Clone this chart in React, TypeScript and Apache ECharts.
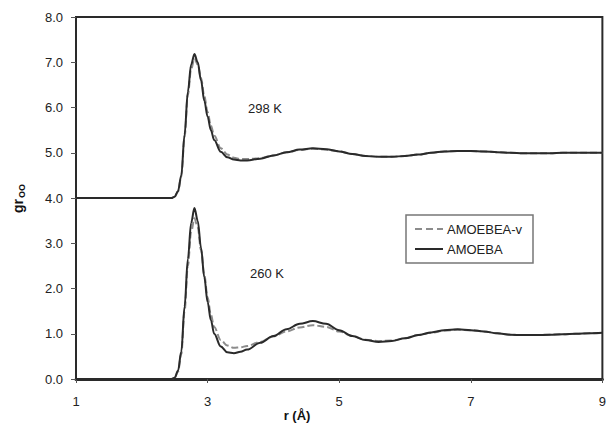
import React, { useEffect, useRef } from "react";
import * as echarts from "echarts";

// r values (Å)
const R = [1.0, 2.0, 2.4, 2.45, 2.5, 2.55, 2.6, 2.65, 2.7, 2.75, 2.8, 2.85, 2.9, 2.95, 3.0, 3.05, 3.1, 3.2, 3.3, 3.4, 3.5, 3.6, 3.8, 4.0, 4.2, 4.4, 4.6, 4.8, 5.0, 5.2, 5.4, 5.6, 5.8, 6.0, 6.2, 6.4, 6.6, 6.8, 7.0, 7.2, 7.4, 7.6, 7.8, 8.0, 8.2, 8.4, 8.6, 8.8, 9.0];

// 298 K curves are shifted up by this offset in the plot
const OFFSET_298 = 4;

const AMOEBA_298 = [0, 0, 0, 0, 0.03, 0.15, 0.5, 1.4, 2.35, 2.95, 3.18, 3.0, 2.6, 2.15, 1.8, 1.5, 1.28, 1.02, 0.9, 0.85, 0.83, 0.83, 0.87, 0.94, 1.01, 1.07, 1.1, 1.08, 1.03, 0.97, 0.93, 0.91, 0.91, 0.93, 0.96, 1.0, 1.03, 1.04, 1.04, 1.03, 1.01, 1.0, 0.99, 0.99, 0.99, 1.0, 1.0, 1.0, 1.0];
const AMOEBAV_298 = [0, 0, 0, 0, 0.03, 0.14, 0.47, 1.35, 2.28, 2.85, 3.08, 2.95, 2.65, 2.25, 1.9, 1.6, 1.38, 1.1, 0.96, 0.89, 0.86, 0.86, 0.88, 0.94, 1.01, 1.06, 1.09, 1.07, 1.03, 0.97, 0.93, 0.91, 0.91, 0.93, 0.96, 1.0, 1.03, 1.04, 1.04, 1.03, 1.01, 1.0, 0.99, 0.99, 0.99, 1.0, 1.0, 1.0, 1.0];

const AMOEBA_260 = [0, 0, 0, 0, 0.03, 0.18, 0.6, 1.6, 2.65, 3.45, 3.78, 3.5, 2.9, 2.25, 1.7, 1.3, 1.0, 0.72, 0.59, 0.57, 0.6, 0.65, 0.8, 0.95, 1.1, 1.22, 1.28, 1.22, 1.08, 0.95, 0.86, 0.82, 0.84, 0.9, 0.97, 1.03, 1.08, 1.1, 1.08, 1.05, 1.01, 0.98, 0.97, 0.97, 0.98, 0.99, 1.0, 1.01, 1.02];
const AMOEBAV_260 = [0, 0, 0, 0, 0.03, 0.16, 0.55, 1.5, 2.5, 3.25, 3.55, 3.35, 2.85, 2.3, 1.8, 1.42, 1.15, 0.86, 0.74, 0.69, 0.7, 0.73, 0.82, 0.94, 1.05, 1.14, 1.19, 1.15, 1.05, 0.95, 0.87, 0.84, 0.85, 0.9, 0.97, 1.02, 1.07, 1.09, 1.08, 1.05, 1.01, 0.98, 0.97, 0.97, 0.98, 0.99, 1.0, 1.01, 1.02];

const X_TICKS = [1, 3, 5, 7, 9];
const Y_MIN = 0, Y_MAX = 8;

const LEGEND_NAMES = ["AMOEBEA-v", "AMOEBA"];
const TEMP_LABELS = ["298 K", "260 K"];

const FONT = "'Liberation Sans', Arial, Helvetica, sans-serif";
const DARK = "#2a2a2a";
const GRAY = "#8c8c8c";

function pairs(vals: number[], offset = 0) {
  return R.map((r, i) => [r, vals[i] + offset]);
}

export default function App() {
  const ref = useRef<HTMLDivElement>(null);
  useEffect(() => {
    if (!ref.current) return;
    const chart = echarts.init(ref.current, undefined, { renderer: "svg" });
    const dashed = { color: GRAY, width: 2, type: [7, 3] as any };
    const solid = { color: DARK, width: 2, type: "solid" as any };
    const common = { type: "line", showSymbol: false, smooth: 0.35, smoothMonotone: "x", silent: true };
    chart.setOption({
      animation: false,
      grid: { left: 76, right: 6, top: 17, bottom: 47, show: true, borderColor: DARK, borderWidth: 2, backgroundColor: "transparent" },
      xAxis: {
        type: "value", min: X_TICKS[0], max: X_TICKS[X_TICKS.length - 1], interval: 2,
        axisLine: { lineStyle: { color: DARK, width: 3 } },
        axisTick: { show: true, length: 4, inside: false, lineStyle: { color: "#555", width: 1 } },
        axisLabel: { color: "#222", fontSize: 13, fontFamily: FONT, margin: 16 },
        splitLine: { show: false },
      },
      yAxis: {
        type: "value", min: Y_MIN, max: Y_MAX, interval: 1,
        axisLine: { show: true, lineStyle: { color: DARK, width: 2 } },
        axisTick: { show: true, length: 5, inside: false, lineStyle: { color: "#555", width: 1 } },
        axisLabel: { color: "#222", fontSize: 13, fontFamily: FONT, margin: 13, formatter: (v: number) => v.toFixed(1) },
        splitLine: { show: false },
      },
      series: [
        { ...common, name: LEGEND_NAMES[0] + " 298", data: pairs(AMOEBAV_298, OFFSET_298), lineStyle: dashed, z: 2 },
        { ...common, name: LEGEND_NAMES[1] + " 298", data: pairs(AMOEBA_298, OFFSET_298), lineStyle: solid, z: 3 },
        { ...common, name: LEGEND_NAMES[0] + " 260", data: pairs(AMOEBAV_260), lineStyle: dashed, z: 2 },
        { ...common, name: LEGEND_NAMES[1] + " 260", data: pairs(AMOEBA_260), lineStyle: solid, z: 3 },
      ],
      graphic: [
        { type: "text", left: 248, top: 102, style: { text: TEMP_LABELS[0], font: `13px ${FONT}`, fill: "#222" } },
        { type: "text", left: 250, top: 267, style: { text: TEMP_LABELS[1], font: `13px ${FONT}`, fill: "#222" } },
        { type: "text", x: 297, y: 415, style: { text: "r (Å)", font: `bold 13px ${FONT}`, fill: "#111", align: "center", verticalAlign: "middle" } },
        {
          type: "group", x: 18, y: 213, rotation: Math.PI / 2,
          children: [
            { type: "text", x: 0, y: 0, style: { text: "gr", font: `bold 14px ${FONT}`, fill: "#111", verticalAlign: "middle" } },
            { type: "text", x: 15, y: 4, style: { text: "OO", font: `bold 9px ${FONT}`, fill: "#111", verticalAlign: "middle" } },
          ],
        },
        { type: "rect", shape: { x: 406, y: 215, width: 127, height: 48 }, style: { fill: "#fff", stroke: "#777", lineWidth: 1.5 }, z: 10 },
        { type: "line", shape: { x1: 415, y1: 229, x2: 443, y2: 229 }, style: { stroke: GRAY, lineWidth: 2, lineDash: [7, 4] }, z: 11 },
        { type: "line", shape: { x1: 415, y1: 249, x2: 443, y2: 249 }, style: { stroke: DARK, lineWidth: 2 }, z: 11 },
        { type: "text", x: 447, y: 229, style: { text: LEGEND_NAMES[0], font: `13px ${FONT}`, fill: "#222", verticalAlign: "middle" }, z: 11 },
        { type: "text", x: 447, y: 249, style: { text: LEGEND_NAMES[1], font: `13px ${FONT}`, fill: "#222", verticalAlign: "middle" }, z: 11 },
      ],
    });
    return () => chart.dispose();
  }, []);
  return <div ref={ref} style={{ position: "absolute", left: 0, top: 0, width: 609, height: 426 }} />;
}
